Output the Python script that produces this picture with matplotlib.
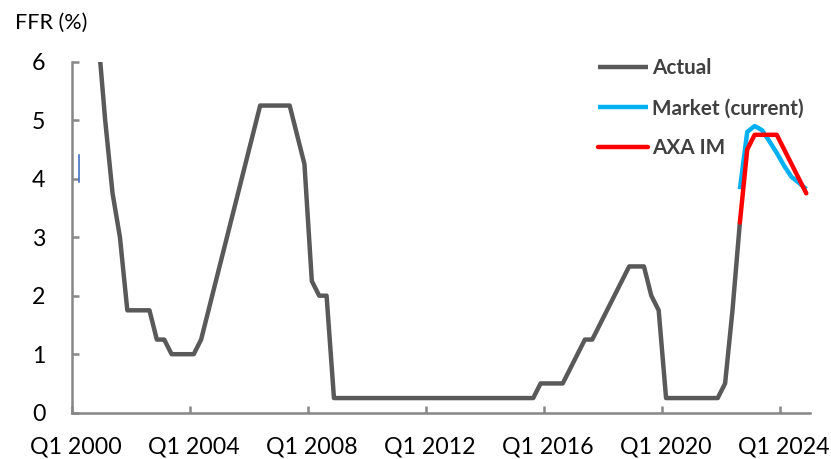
import numpy as np
import matplotlib
matplotlib.use("Agg")
import matplotlib.pyplot as plt

plt.rcParams['font.family'] = ['Lato', 'DejaVu Sans']

# Fed funds rate, end of quarter, Q1 2000 .. Q3 2022 (index 0..90)
actual = [6.5, 6.5, 6.5, 6.5, 5.0, 3.75, 3.0, 1.75,
          1.75, 1.75, 1.75, 1.25, 1.25, 1.0, 1.0, 1.0,
          1.0, 1.25, 1.75, 2.25, 2.75, 3.25, 3.75, 4.25,
          4.75, 5.25, 5.25, 5.25, 5.25, 5.25, 4.75, 4.25,
          2.25, 2.0, 2.0, 0.25, 0.25, 0.25, 0.25, 0.25,
          0.25, 0.25, 0.25, 0.25, 0.25, 0.25, 0.25, 0.25,
          0.25, 0.25, 0.25, 0.25, 0.25, 0.25, 0.25, 0.25,
          0.25, 0.25, 0.25, 0.25, 0.25, 0.25, 0.25, 0.5,
          0.5, 0.5, 0.5, 0.75, 1.0, 1.25, 1.25, 1.5,
          1.75, 2.0, 2.25, 2.5, 2.5, 2.5, 2.0, 1.75,
          0.25, 0.25, 0.25, 0.25, 0.25, 0.25, 0.25, 0.25,
          0.5, 1.75, 3.25]

# forecasts from Q3 2022 (index 90) to Q4 2024 (index 99)
market = [3.82, 4.8, 4.9, 4.83, 4.64, 4.44, 4.22, 4.03, 3.93, 3.82]
axa_im = [3.25, 4.5, 4.75, 4.75, 4.75, 4.75, 4.5, 4.25, 4.0, 3.75]
forecast_start = 90

# small stray blue mark near the start of the axis
stub_x = [0.5, 0.5]
stub_y = [3.94, 4.4]

tick_labels = ['Q1 2000', 'Q1 2004', 'Q1 2008', 'Q1 2012',
               'Q1 2016', 'Q1 2020', 'Q1 2024']
n_quarters = 100

x_actual = np.arange(len(actual))
x_fc = np.arange(forecast_start, forecast_start + len(market))

fig = plt.figure(figsize=(8.31, 4.59), dpi=100)
ax = fig.add_axes([0.0866, 0.1009, 0.8881, 0.7647])

ax.plot(x_actual, actual, color='#595959', lw=3.2, label='Actual',
        solid_joinstyle='round', solid_capstyle='butt')
ax.plot(x_fc, market, color='#00B0F0', lw=3.2, label='Market (current)',
        solid_joinstyle='round', solid_capstyle='butt')
ax.plot(x_fc, axa_im, color='#FF0000', lw=3.2, label='AXA IM',
        solid_joinstyle='round', solid_capstyle='round')
ax.plot(stub_x, stub_y, color='#4472C4', lw=1.2)

ax.set_xlim(-0.5, n_quarters - 0.5)
ax.set_ylim(0, 6)

# tick marks sit on category boundaries, labels centred on the category
ax.set_xticks(np.arange(-0.5, n_quarters, 16))
ax.set_xticklabels([])
ax.set_xticks(np.arange(0, n_quarters, 16), minor=True)
ax.set_xticklabels(tick_labels, minor=True, fontsize=16.7)
ax.tick_params(axis='x', which='minor', length=0, pad=17)
ax.tick_params(axis='x', which='major', direction='in', length=5,
               width=1.8, color='#878787')

ax.set_yticks(range(7))
ax.tick_params(axis='y', direction='in', length=5, width=1.8,
               color='#878787', labelsize=16.7, pad=19)

for s in ['top', 'right']:
    ax.spines[s].set_visible(False)
for s in ['left', 'bottom']:
    ax.spines[s].set_color('#878787')
    ax.spines[s].set_linewidth(1.8)

fig.text(0.018, 0.938, 'FFR (%)', fontsize=15.5, va='baseline', ha='left')

leg = ax.legend(loc='upper left', bbox_to_anchor=(0.7196, 0.873),
                bbox_transform=fig.transFigure, frameon=False,
                borderpad=0, borderaxespad=0, handlelength=2.4,
                handletextpad=0.2, labelspacing=0.96,
                prop={'size': 14.9, 'weight': 'bold'})
for t in leg.get_texts():
    t.set_color('#404040')

fig.savefig('out.png', dpi=100)
